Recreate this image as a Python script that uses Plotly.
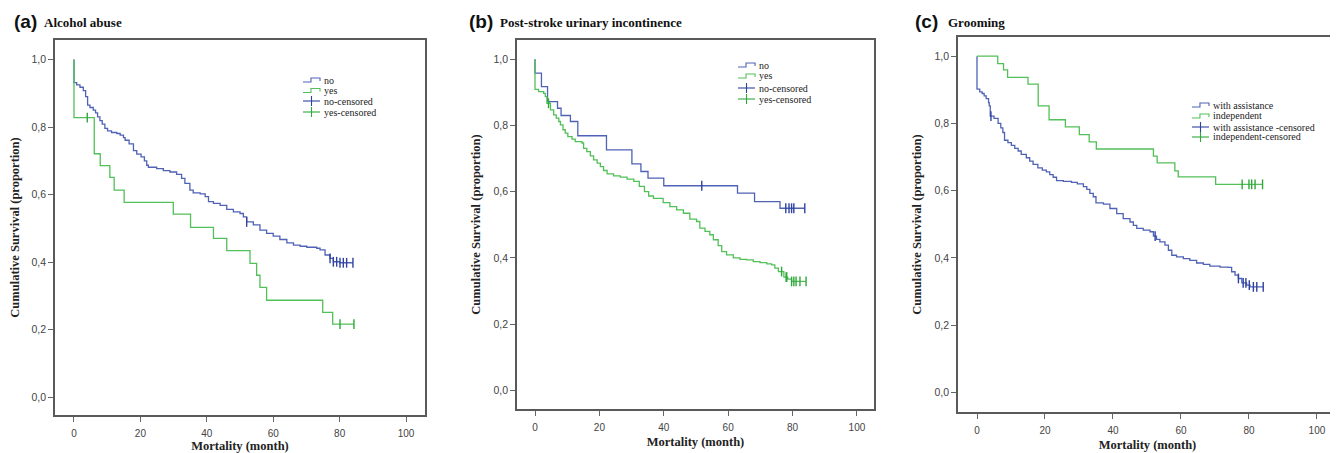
import numpy as np
import plotly.graph_objects as go

# ---------------- data ----------------
# (a) Alcohol abuse
a_no_t = [0, 0, 0.8, 1.8, 2.8, 3.5, 4.1, 4.8, 5.8, 6.5, 7.1, 7.8, 8.5, 9.3, 10.1, 11.3, 12.9, 13.9,
          14.9, 15.4, 16.6, 17.9, 18.9, 20.2, 21.2, 21.9, 22.4, 24.9, 26.9, 28.9, 30.9, 32.4, 33.4,
          34.9, 35.9, 38.0, 39.5, 40.5, 42.0, 44.0, 46.0, 48.0, 50.0, 51.0, 52.0, 54.0, 56.0, 58.0,
          60.0, 62.0, 64.1, 66.1, 68.1, 70.1, 73.1, 74.1, 75.6, 77.1, 78.1, 80.0]
a_no_s = [1.0, 0.932, 0.925, 0.918, 0.908, 0.890, 0.865, 0.858, 0.850, 0.842, 0.830, 0.819, 0.809,
          0.796, 0.789, 0.784, 0.781, 0.776, 0.769, 0.761, 0.750, 0.730, 0.720, 0.712, 0.700, 0.687,
          0.681, 0.677, 0.671, 0.667, 0.660, 0.648, 0.633, 0.613, 0.605, 0.602, 0.594, 0.579, 0.574,
          0.568, 0.556, 0.549, 0.544, 0.534, 0.519, 0.510, 0.495, 0.485, 0.477, 0.467, 0.457, 0.450,
          0.447, 0.444, 0.441, 0.436, 0.421, 0.411, 0.401, 0.398]
a_no_cens = [52.0, 77.1, 78.1, 79.1, 80.1, 81.1, 82.1, 84.0]
a_yes_t = [0, 0, 6.1, 7.9, 10.8, 12.1, 15.1, 29.9, 35.1, 42.0, 46.0, 53.0, 55.0, 56.0, 58.0, 74.9, 77.9]
a_yes_s = [1.0, 0.828, 0.721, 0.686, 0.651, 0.613, 0.577, 0.542, 0.503, 0.470, 0.434, 0.396, 0.361,
           0.325, 0.287, 0.251, 0.216]
a_yes_cens = [4.0, 80.1, 84.3]

# (b) Post-stroke urinary incontinence
b_no_t = [0, 0, 2.0, 3.9, 7.0, 8.1, 11.0, 13.3, 22.2, 30.1, 32.9, 35.1, 40.0, 62.9, 68.2, 76.1]
b_no_s = [1.0, 0.958, 0.917, 0.872, 0.852, 0.830, 0.812, 0.769, 0.726, 0.684, 0.661, 0.641, 0.618,
          0.596, 0.570, 0.550]
b_no_cens = [51.8, 77.9, 78.9, 79.7, 80.4, 83.8]
b_yes_t = [0, 0, 1.1, 2.7, 3.2, 3.7, 4.8, 5.8, 6.6, 7.4, 7.9, 8.7, 9.4, 10.2, 11.5, 12.5, 14.6, 15.1,
           16.1, 17.2, 18.2, 19.3, 20.3, 21.3, 22.4, 24.4, 26.5, 28.6, 30.7, 32.4, 34.0, 35.3, 36.8,
           39.8, 41.9, 44.0, 46.1, 48.1, 50.2, 51.2, 52.8, 54.3, 55.4, 56.9, 58.0, 59.5, 61.6, 63.7,
           65.7, 67.8, 69.9, 72.0, 73.5, 74.5, 75.6, 77.3, 78.5, 79.7]
b_yes_s = [1.0, 0.909, 0.902, 0.897, 0.887, 0.867, 0.847, 0.832, 0.822, 0.812, 0.802, 0.787, 0.777,
           0.766, 0.759, 0.751, 0.747, 0.731, 0.721, 0.708, 0.696, 0.686, 0.676, 0.664, 0.654, 0.648,
           0.644, 0.638, 0.631, 0.616, 0.600, 0.587, 0.580, 0.567, 0.555, 0.545, 0.535, 0.517, 0.510,
           0.490, 0.480, 0.470, 0.455, 0.437, 0.419, 0.409, 0.400, 0.396, 0.394, 0.389, 0.386, 0.382,
           0.379, 0.369, 0.359, 0.342, 0.336, 0.329]
b_yes_cens = [4.2, 76.6, 78.0, 78.2, 79.7, 80.4, 81.1, 82.3, 84.2]

# (c) Grooming
c_asst_t = [0, 0, 0.8, 1.5, 2.1, 2.7, 3.4, 3.6, 3.9, 5.0, 6.2, 7.0, 7.6, 8.1, 9.1, 10.1, 11.1, 12.1,
            13.0, 14.5, 15.5, 16.5, 17.9, 19.2, 20.4, 21.4, 22.4, 23.4, 25.4, 27.8, 29.5, 31.3, 32.3,
            33.2, 34.2, 35.0, 37.2, 39.1, 41.1, 43.0, 45.0, 46.0, 47.0, 48.9, 50.9, 51.9, 52.8, 53.8,
            55.3, 56.3, 57.3, 58.7, 60.7, 62.6, 64.6, 66.6, 68.5, 71.5, 73.9, 74.9, 75.9, 76.9, 77.9,
            79.3, 80.3]
c_asst_s = [1.0, 0.902, 0.894, 0.889, 0.882, 0.874, 0.862, 0.852, 0.822, 0.815, 0.800, 0.787, 0.773,
            0.750, 0.743, 0.735, 0.726, 0.718, 0.708, 0.698, 0.688, 0.678, 0.668, 0.661, 0.656, 0.648,
            0.640, 0.630, 0.628, 0.625, 0.620, 0.612, 0.604, 0.592, 0.582, 0.564, 0.560, 0.547, 0.532,
            0.517, 0.507, 0.497, 0.488, 0.483, 0.478, 0.465, 0.455, 0.448, 0.438, 0.423, 0.408, 0.403,
            0.398, 0.393, 0.385, 0.381, 0.376, 0.373, 0.372, 0.359, 0.349, 0.339, 0.326, 0.319, 0.314]
c_asst_cens = [4.1, 52.4, 76.9, 78.3, 79.1, 80.1, 81.3, 82.3, 84.2]
c_ind_t = [0, 6.1, 7.8, 9.0, 15.0, 18.0, 21.2, 26.0, 30.1, 33.0, 35.1, 51.9, 53.0, 58.2, 59.2, 70.2]
c_ind_s = [1.0, 0.978, 0.959, 0.937, 0.917, 0.852, 0.811, 0.790, 0.767, 0.745, 0.724, 0.703, 0.683,
           0.659, 0.641, 0.619]
c_ind_cens = [78.0, 80.0, 80.8, 81.8, 84.0]

x_ticks = [0, 20, 40, 60, 80, 100]
y_ticks = [0.0, 0.2, 0.4, 0.6, 0.8, 1.0]
y_ticktext = ["0,0", "0,2", "0,4", "0,6", "0,8", "1,0"]

panel_letters = ["(a)", "(b)", "(c)"]
panel_titles = ["Alcohol abuse", "Post-stroke urinary incontinence", "Grooming"]
legend_labels = [["no", "yes", "no-censored", "yes-censored"],
                 ["no", "yes", "no-censored", "yes-censored"],
                 ["with assistance", "independent", "with assistance -censored", "independent-censored"]]

# ---------------- styling / layout ----------------
OFF = 8                      # the page body has an 8px margin
W, H = 1338 - OFF, 453 - OFF
BLUE = "#4f62b5"
BLUE_C = "#2f42a0"
GREEN = "#52c058"
GREEN_C = "#2ea83a"
FRAME = "#5a5a5a"
SERIF = "Liberation Serif"
SANS = "Liberation Sans"


def px(x):
    return (x - OFF) / W


def py(y):
    return 1 - (y - OFF) / H


# frame boxes in page pixels: left, top, right, bottom
frames = [(55, 40, 425, 415), (517, 40, 874, 409), (958, 37, 1337, 412)]
xranges = [(-5.72, 105.7), (-5.59, 105.3), (-5.59, 105.9)]
yranges = [(-0.053, 1.058), (-0.056, 1.058), (-0.058, 1.057)]
legend_pos = [(303, [80, 90.5, 101, 112]), (738, [65, 76, 88, 99]), (1192, [105, 116, 127, 137])]
title_pos = [(12, 42), (467, 498), (913, 946)]

curves = [
    [(a_no_t, a_no_s, a_no_cens), (a_yes_t, a_yes_s, a_yes_cens)],
    [(b_no_t, b_no_s, b_no_cens), (b_yes_t, b_yes_s, b_yes_cens)],
    [(c_asst_t, c_asst_s, c_asst_cens), (c_ind_t, c_ind_s, c_ind_cens)],
]


def step_value(ts, ss, t):
    idx = np.searchsorted(np.asarray(ts), t, side="right") - 1
    return np.asarray(ss)[idx]


fig = go.Figure()
layout = dict(width=W, height=H, margin=dict(l=0, r=0, t=0, b=0),
              paper_bgcolor="white", plot_bgcolor="white", showlegend=False)
annotations = []
shapes = []

for i in range(3):
    sfx = "" if i == 0 else str(i + 1)
    xa, ya = "x" + sfx, "y" + sfx
    l, t, r, b = frames[i]
    layout["xaxis" + sfx] = dict(
        domain=[px(l), px(r)], range=list(xranges[i]), anchor=ya,
        tickvals=x_ticks, ticks="outside", ticklen=5, tickwidth=1, tickcolor="#666",
        ticklabelstandoff=3,
        showline=True, mirror=True, linecolor=FRAME, linewidth=1.6,
        showgrid=False, zeroline=False, automargin=False,
        tickfont=dict(family=SANS, size=10, color="#444"),
        title=dict(text="Mortality (month)", standoff=5,
                   font=dict(family=SERIF, size=12.5, color="#222", weight="bold")))
    layout["yaxis" + sfx] = dict(
        domain=[py(b), py(t)], range=list(yranges[i]), anchor=xa,
        tickvals=y_ticks, ticktext=y_ticktext, ticks="outside", ticklen=5, tickwidth=1,
        tickcolor="#666", showline=True, mirror=True, linecolor=FRAME, linewidth=1.6,
        showgrid=False, zeroline=False, automargin=False,
        tickfont=dict(family=SANS, size=10.5, color="#444"),
        title=dict(text="Cumulative Survival (proportion)", standoff=10,
                   font=dict(family=SERIF, size=12.5, color="#222", weight="bold")))

    colors = [(BLUE, BLUE_C), (GREEN, GREEN_C)]
    for (ts, ss, cens), (col, ccol) in zip(curves[i], colors):
        t_end = max(cens)
        xs = list(ts) + [t_end]
        ys = list(ss) + [ss[-1]]
        fig.add_trace(go.Scatter(x=xs, y=ys, mode="lines", line=dict(color=col, width=1.3, shape="hv"),
                                 xaxis=xa, yaxis=ya, hoverinfo="skip"))
        cy = [float(step_value(ts, ss, c)) for c in cens]
        fig.add_trace(go.Scatter(x=cens, y=cy, mode="markers",
                                 marker=dict(symbol="line-ns-open", size=7, color=ccol,
                                             line=dict(color=ccol, width=1.4)),
                                 xaxis=xa, yaxis=ya, hoverinfo="skip"))

    # panel title
    lx, tx = title_pos[i]
    annotations.append(dict(text=panel_letters[i], xref="paper", yref="paper", x=px(lx), y=py(22),
                            xanchor="left", yanchor="middle", showarrow=False,
                            font=dict(family=SANS, size=19, color="#111", weight="bold")))
    annotations.append(dict(text=panel_titles[i], xref="paper", yref="paper", x=px(tx), y=py(23),
                            xanchor="left", yanchor="middle", showarrow=False,
                            font=dict(family=SERIF, size=13, color="#111", weight="bold")))

    # legend (drawn as decoration)
    gx, rows = legend_pos[i]
    gl = [(BLUE, "step"), (GREEN, "step"), (BLUE_C, "cens"), (GREEN_C, "cens")]
    for k, (col, kind) in enumerate(gl):
        yy = rows[k]
        if kind == "step":
            path = "M {:.4f} {:.4f} L {:.4f} {:.4f} L {:.4f} {:.4f} L {:.4f} {:.4f} L {:.4f} {:.4f}".format(
                px(gx), py(yy + 2), px(gx + 8), py(yy + 2), px(gx + 8), py(yy - 2),
                px(gx + 17), py(yy - 2), px(gx + 17), py(yy + 1))
            shapes.append(dict(type="path", path=path, xref="paper", yref="paper",
                               line=dict(color=col, width=1.1)))
        else:
            shapes.append(dict(type="line", xref="paper", yref="paper", x0=px(gx), x1=px(gx + 17),
                               y0=py(yy), y1=py(yy), line=dict(color=col, width=1.1)))
            shapes.append(dict(type="line", xref="paper", yref="paper", x0=px(gx + 8.5), x1=px(gx + 8.5),
                               y0=py(yy - 5), y1=py(yy + 5), line=dict(color=col, width=1.1)))
        annotations.append(dict(text=legend_labels[i][k], xref="paper", yref="paper", x=px(gx + 19),
                                y=py(yy), xanchor="left", yanchor="middle", showarrow=False,
                                font=dict(family=SERIF, size=10, color="#222")))

layout["annotations"] = annotations
layout["shapes"] = shapes
fig.update_layout(**layout)
fig.write_html("out.html")
